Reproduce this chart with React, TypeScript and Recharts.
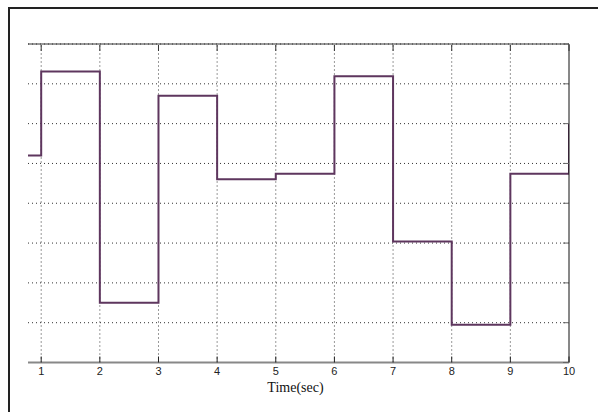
import React from "react";
import {
  LineChart, Line, XAxis, YAxis, CartesianGrid, Label, ReferenceLine
} from "recharts";

// step signal, value held from each time until the next one
const times = [0.775, 1, 2, 3, 4, 5, 6, 7, 8, 9, 10];
const levels = [5.2, 7.31, 1.5, 6.7, 4.6, 4.74, 7.19, 3.04, 0.95, 4.74, 6.01];
const xTicks = [1, 2, 3, 4, 5, 6, 7, 8, 9, 10];
const yTicks = [0, 1, 2, 3, 4, 5, 6, 7, 8];

const data = times.map((t, i) => ({ t, v: levels[i] }));

const BottomTick = (props: any) => {
  const { x, y, payload } = props;
  return (
    <g>
      <line x1={x} x2={x} y1={y - 8} y2={y - 14} stroke="#222" strokeWidth={1} />
      <text x={x} y={y} textAnchor="middle" dominantBaseline="central"
        fontFamily="'Liberation Sans', Arial, sans-serif" fontSize={11} fill="#222">
        {payload.value}
      </text>
    </g>
  );
};

// top axis sits 1px above the plot; ticks point down into it
const TopTick = (props: any) => {
  const { x, y } = props;
  return <line x1={x} x2={x} y1={y + 1} y2={y + 7} stroke="#333" strokeWidth={1} />;
};

// right axis sits 1px right of the plot; ticks point left into it
const RightTick = (props: any) => {
  const { x, y } = props;
  return <line x1={x} x2={x - 6} y1={y} y2={y} stroke="#666" strokeWidth={1} />;
};

export default function App() {
  return (
    <div style={{ position: "relative", width: 598, height: 412, background: "#fff" }}>
      <style>{`body{margin:0}`}</style>
      <div style={{
        position: "absolute", left: 8, top: 7, right: 0, bottom: 0,
        borderTop: "2px solid #222", borderLeft: "2px solid #222"
      }} />
      <LineChart width={598} height={412} data={data}
        margin={{ top: 43, right: 28, bottom: 19.5, left: 28 }}>
        <CartesianGrid stroke="#333" strokeDasharray="1 3" vertical={false} />
        {xTicks.slice(0, -1).map(t => (
          <ReferenceLine key={t} x={t} stroke="#333" strokeDasharray="1 3" />
        ))}
        <XAxis dataKey="t" type="number" domain={[0.775, 10]} ticks={xTicks}
          allowDataOverflow height={30} tickSize={0} tickMargin={8}
          axisLine={{ stroke: "#888", strokeWidth: 2 }} tickLine={false}
          tick={<BottomTick />} interval={0}>
          <Label value="Time(sec)" position="insideBottom" offset={1} dx={-3}
            style={{ fontFamily: "'Liberation Serif', 'Times New Roman', serif", fontSize: 14, fill: "#111" }} />
        </XAxis>
        <XAxis xAxisId="top" orientation="top" dataKey="t" type="number"
          domain={[0.775, 10]} ticks={xTicks} allowDataOverflow height={1}
          tickSize={0} tickMargin={0} tickLine={false}
          axisLine={{ stroke: "#333", strokeWidth: 1 }} tick={<TopTick />} interval={0} />
        <YAxis orientation="right" type="number" domain={[0, 8]} ticks={yTicks}
          width={1} tickSize={0} tickMargin={0} tickLine={false}
          axisLine={{ stroke: "#111", strokeWidth: 1 }} tick={<RightTick />} interval={0} />
        <Line type="stepAfter" dataKey="v" stroke="#5e365e" strokeWidth={2}
          dot={false} isAnimationActive={false} />
      </LineChart>
    </div>
  );
}
